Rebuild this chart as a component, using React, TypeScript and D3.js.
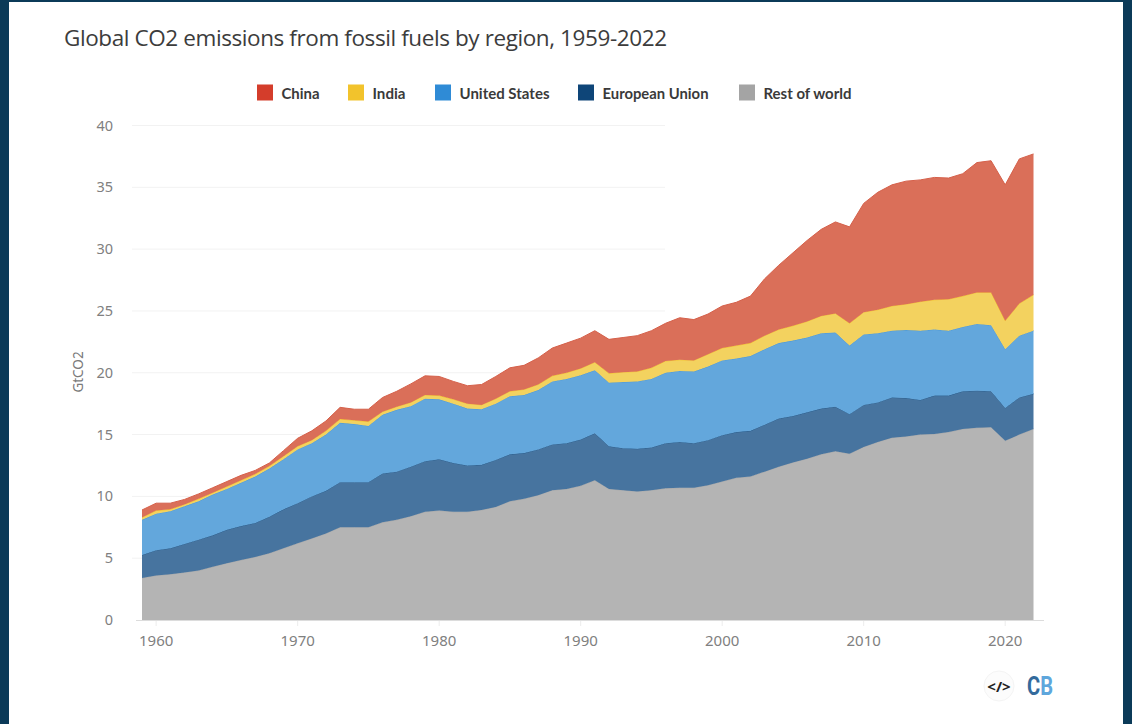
import React from "react";
import * as d3 from "d3";

const years = d3.range(1959, 2023);
const restOfWorld = [3.4,3.6,3.7,3.85,4.0,4.3,4.6,4.85,5.1,5.4,5.8,6.2,6.6,7.0,7.5,7.5,7.5,7.9,8.1,8.4,8.75,8.85,8.75,8.75,8.9,9.15,9.6,9.8,10.1,10.5,10.6,10.85,11.3,10.6,10.5,10.4,10.5,10.65,10.7,10.7,10.9,11.2,11.5,11.6,12.0,12.4,12.75,13.05,13.4,13.65,13.45,14.0,14.4,14.75,14.85,15.0,15.05,15.2,15.45,15.55,15.6,14.5,15.0,15.45];
const europeanUnion = [1.85,2.05,2.1,2.3,2.5,2.55,2.7,2.75,2.75,2.95,3.15,3.25,3.4,3.45,3.65,3.65,3.65,3.95,3.9,4.0,4.1,4.15,3.95,3.75,3.65,3.8,3.8,3.7,3.7,3.7,3.7,3.75,3.8,3.45,3.4,3.45,3.45,3.65,3.7,3.6,3.65,3.75,3.7,3.7,3.8,3.9,3.75,3.75,3.7,3.6,3.2,3.4,3.2,3.25,3.1,2.8,3.1,2.95,3.05,3.0,2.9,2.65,3.0,2.85];
const unitedStates = [2.85,2.95,3.0,3.05,3.1,3.3,3.3,3.5,3.75,3.9,4.05,4.35,4.3,4.55,4.8,4.7,4.55,4.75,5.0,4.9,5.05,4.85,4.8,4.6,4.5,4.55,4.7,4.7,4.8,5.1,5.2,5.2,5.1,5.15,5.35,5.45,5.55,5.7,5.75,5.8,5.95,6.05,5.95,6.05,6.1,6.1,6.1,6.05,6.1,6.0,5.55,5.7,5.6,5.4,5.5,5.6,5.35,5.25,5.2,5.4,5.35,4.75,5.0,5.1];
const india = [0.2,0.25,0.15,0.15,0.2,0.15,0.2,0.2,0.2,0.2,0.25,0.25,0.25,0.3,0.3,0.3,0.35,0.25,0.25,0.3,0.3,0.3,0.35,0.4,0.35,0.4,0.4,0.45,0.45,0.45,0.5,0.55,0.65,0.75,0.8,0.8,0.9,0.95,0.9,0.9,1.0,1.0,1.05,1.05,1.1,1.1,1.2,1.3,1.4,1.55,1.8,1.8,1.9,2.0,2.1,2.35,2.4,2.55,2.5,2.55,2.65,2.3,2.6,2.9];
const china = [0.6,0.6,0.5,0.4,0.4,0.4,0.4,0.4,0.3,0.25,0.45,0.65,0.75,0.8,0.95,0.9,1.0,1.15,1.25,1.5,1.55,1.55,1.45,1.45,1.65,1.8,1.9,1.95,2.15,2.25,2.4,2.45,2.55,2.75,2.8,2.9,3.0,3.05,3.4,3.3,3.25,3.4,3.5,3.8,4.6,5.2,5.9,6.55,7.0,7.4,7.8,8.8,9.5,9.8,9.95,9.85,9.9,9.8,9.9,10.5,10.65,11.0,11.7,11.4];

const stackOrder = ["Rest of world", "European Union", "United States", "India", "China"];
const seriesValues = [restOfWorld, europeanUnion, unitedStates, india, china];
const areaColors = ["#b4b4b4", "#47749f", "#63a7dc", "#f3d25f", "#da6f59"];
const lineColors = ["#a9a9a9", "#2a5f8f", "#4a97d6", "#f5c52e", "#d5604a"];

const legendNames = ["China", "India", "United States", "European Union", "Rest of world"];
const legendColors = ["#d43d2b", "#f2c32c", "#2f8bd6", "#0e4578", "#a4a4a4"];
const legendSwatchX = [257, 348, 435, 578, 739];
const legendLabelWidth = [38, 33, 90, 106, 88];

const yTicks = [0, 5, 10, 15, 20, 25, 30, 35, 40];
const xTicks = [1960, 1970, 1980, 1990, 2000, 2010, 2020];

const FONT = "'Noto Sans', sans-serif";
const LEGEND_FONT = "Lato, 'Noto Sans', sans-serif";

export default function App() {
  const x = d3.scaleLinear().domain([1959, 2022]).range([142, 1033.5]);
  const y = d3.scaleLinear().domain([0, 40]).range([620, 125.5]);

  const rows = years.map((yr, i) => {
    const r: Record<string, number> = { year: yr };
    stackOrder.forEach((k, j) => (r[k] = seriesValues[j][i]));
    return r;
  });
  const stacked = d3.stack<Record<string, number>>().keys(stackOrder)(rows);
  const area = d3
    .area<d3.SeriesPoint<Record<string, number>>>()
    .x((d) => x(d.data.year))
    .y0((d) => y(d[0]))
    .y1((d) => y(d[1]));
  const top = d3
    .line<d3.SeriesPoint<Record<string, number>>>()
    .x((d) => x(d.data.year))
    .y((d) => y(d[1]));

  return (
    <svg
      width={1132}
      height={724}
      style={{ position: "absolute", left: 0, top: 0, display: "block" }}
      fontFamily={FONT}
    >
      <rect width={1132} height={724} fill="#0b3a58" />
      <rect x={9} y={2} width={1114} height={722} fill="#fff" />

      <text x={64} y={46} fontSize={22.5} fill="#3c3c3c" fontFamily="'Open Sans', sans-serif" textLength={603}>
        Global CO2 emissions from fossil fuels by region, 1959-2022
      </text>

      {legendNames.map((name, i) => (
        <g key={name}>
          <rect x={legendSwatchX[i]} y={84.5} width={16} height={16} fill={legendColors[i]} />
          <text
            x={legendSwatchX[i] + 24.5}
            y={98.5}
            fontSize={15}
            fontWeight={700}
            fill="#3a3a3a"
            fontFamily={LEGEND_FONT}
            textLength={legendLabelWidth[i]}
            lengthAdjust="spacingAndGlyphs"
          >
            {name}
          </text>
        </g>
      ))}

      {yTicks.map((t) => (
        <g key={t}>
          {t > 0 && <line x1={132} x2={665} y1={y(t)} y2={y(t)} stroke="#f2f2f2" strokeWidth={1} />}
          <text x={113} y={y(t) + 5} fontSize={14.5} textAnchor="end" fill="#808080">
            {t}
          </text>
        </g>
      ))}

      <text
        transform={`translate(83,372) rotate(-90)`}
        fontSize={13.5}
        textAnchor="middle"
        fill="#7a7a7a"
      >
        GtCO2
      </text>

      {stacked.map((s, i) => (
        <g key={s.key}>
          <path d={area(s) ?? ""} fill={areaColors[i]} />
          <path d={top(s) ?? ""} fill="none" stroke={lineColors[i]} strokeWidth={1} />
        </g>
      ))}

      <line x1={136} x2={1044} y1={620.5} y2={620.5} stroke="#dcdcdc" strokeWidth={1} />

      {xTicks.map((t) => (
        <g key={t}>
          <line x1={x(t)} x2={x(t)} y1={621} y2={626} stroke="#ececec" />
          <text x={x(t)} y={646} fontSize={15} textAnchor="middle" fill="#808080">
            {t}
          </text>
        </g>
      ))}

      <g>
        <circle cx={999} cy={686} r={15} fill="#fcfcfc" stroke="#f4f4f4" />
        <text x={999} y={691.5} fontSize={15} fontWeight={700} textAnchor="middle" fill="#222">
          {"</>"}
        </text>
        <text
          x={1027}
          y={695}
          fontSize={25}
          fontWeight={700}
          fontFamily="'Liberation Sans Narrow','Roboto',sans-serif"
          textLength={26}
          lengthAdjust="spacingAndGlyphs"
        >
          <tspan fill="#336a9c">C</tspan>
          <tspan fill="#5ea6dc">B</tspan>
        </text>
      </g>
    </svg>
  );
}
